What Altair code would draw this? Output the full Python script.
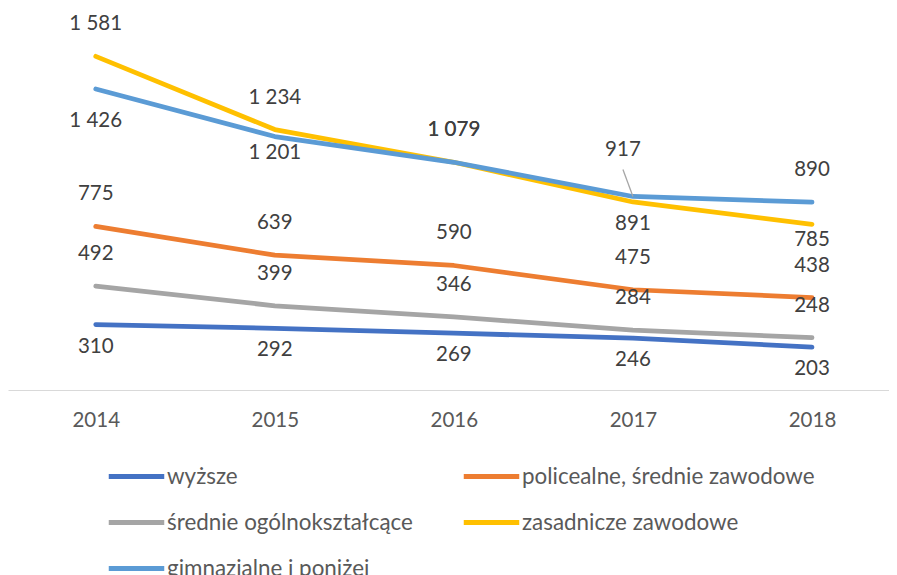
import altair as alt
import pandas as pd

years = [2014, 2015, 2016, 2017, 2018]
series = [
    "wyższe",
    "policealne, średnie zawodowe",
    "średnie ogólnokształcące",
    "zasadnicze zawodowe",
    "gimnazjalne i poniżej",
]
colors = ["#4472C4", "#ED7D31", "#A5A5A5", "#FFC000", "#5B9BD5"]

wyzsze = [310, 292, 269, 246, 203]
policealne = [775, 639, 590, 475, 438]
srednie = [492, 399, 346, 284, 248]
zasadnicze = [1581, 1234, 1079, 891, 785]
gimnazjalne = [1426, 1201, 1079, 917, 890]

# where each data label sits relative to its point
place_wyzsze = ["below", "below", "below", "below", "below"]
place_policealne = ["above", "above", "above", "above", "above"]
place_srednie = ["above", "above", "above", "above", "above"]
place_zasadnicze = ["above", "above", "above", "below", "nearbelow"]
place_gimnazjalne = ["farbelow", "nearbelow", "above", "callout", "above"]

values = [wyzsze, policealne, srednie, zasadnicze, gimnazjalne]
places = [place_wyzsze, place_policealne, place_srednie, place_zasadnicze, place_gimnazjalne]

rows = []
for s, vals, pl in zip(series, values, places):
    for y, v, p in zip(years, vals, pl):
        rows.append({"rok": y, "seria": s, "wartosc": v, "miejsce": p})
df = pd.DataFrame(rows)

# legend grid is filled column by column: reorder so it reads row by row
legend_order = [series[0], series[2], series[4], series[1], series[3]]
legend_colors = [colors[series.index(s)] for s in legend_order]

base = alt.Chart(df).transform_calculate(
    etykieta="replace(format(datum.wartosc, ','), ',', ' ')"
)

x_enc = alt.X(
    "rok:Q",
    scale=alt.Scale(domain=[2013.51, 2018.43], nice=False, zero=False),
    axis=alt.Axis(
        values=years, format="d", title=None, grid=False, ticks=False,
        domainColor="#D9D9D9", domainWidth=1.2, labelColor="#595959",
        labelFont="Lato", labelFontSize=20.5, labelPadding=20,
    ),
)
y_enc = alt.Y(
    "wartosc:Q",
    scale=alt.Scale(domain=[0, 1810], nice=False),
    axis=None,
)

color_enc = alt.Color(
    "seria:N",
    scale=alt.Scale(domain=legend_order, range=legend_colors),
    legend=alt.Legend(
        title=None, orient="none", legendX=98, legendY=438, columns=2,
        symbolType="stroke", symbolSize=3080, symbolStrokeWidth=5,
        labelFont="Lato", labelFontSize=22.4, labelColor="#595959",
        labelOffset=0, rowPadding=4, columnPadding=40, gridAlign="each",
        labelLimit=400, padding=0,
    ),
)

line_mark = dict(strokeWidth=4.75, strokeCap="round", strokeJoin="round")
lines_main = base.transform_filter(alt.datum.seria != series[4]).mark_line(**line_mark).encode(
    x=x_enc, y=y_enc, color=color_enc, order=alt.Order("rok:Q"),
)
lines_top = base.transform_filter(alt.datum.seria == series[4]).mark_line(**line_mark).encode(
    x=x_enc, y=y_enc, color=color_enc, order=alt.Order("rok:Q"),
)

def labels(place, dy, dx=0):
    return base.transform_filter(alt.datum.miejsce == place).mark_text(
        font="Lato", fontSize=20.5, color="#404040", dy=dy, dx=dx, baseline="middle"
    ).encode(x=x_enc, y=y_enc, text="etykieta:N")

leader = base.transform_filter(alt.datum.miejsce == "callout").mark_rule(
    color="#A6A6A6", strokeWidth=1.3, x2Offset=-10, y2Offset=-27
).encode(x=x_enc, y=y_enc, x2="rok:Q", y2="wartosc:Q")

chart = alt.layer(
    lines_main,
    lines_top,
    labels("above", -32),
    labels("below", 22),
    labels("nearbelow", 16),
    labels("farbelow", 32),
    labels("callout", -46, -10),
    leader,
).properties(
    width=881, height=382,
    autosize=alt.AutoSizeParams(type="none"),
    padding={"left": 0, "top": 0, "right": 0, "bottom": 185},
).configure_view(stroke=None)

chart.save("out.html", embed_options={"renderer": "svg", "actions": False})
